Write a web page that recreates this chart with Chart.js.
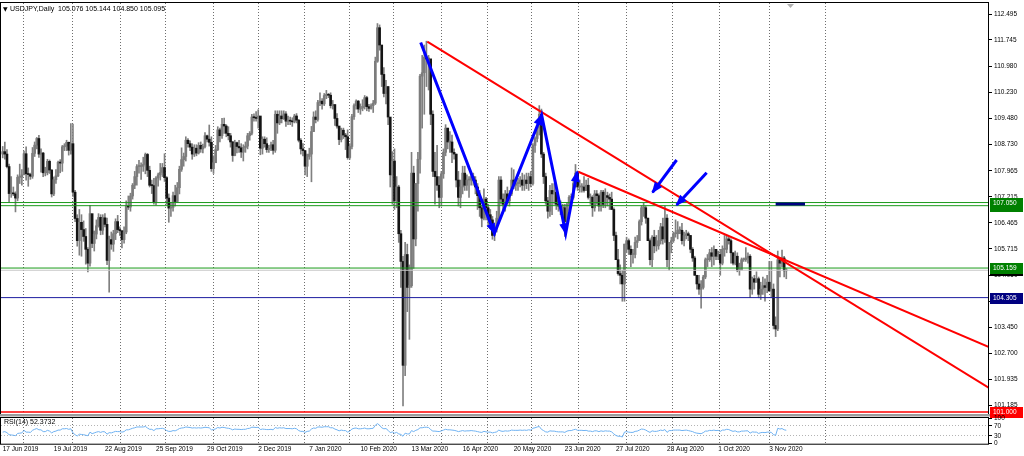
<!DOCTYPE html>
<html>
<head>
<meta charset="utf-8">
<script src="https://cdn.jsdelivr.net/npm/chart.js@4.4.0/dist/chart.umd.min.js"></script>
<style>
  html, body { margin: 0; padding: 0; background: #fff; }
  #wrap { position: relative; width: 1024px; height: 456px; overflow: hidden; }
  #main { position: absolute; left: 0; top: 0; }
  #rsi { position: absolute; left: 0; top: 414px; }
</style>
</head>
<body>
<div id="wrap">
  <canvas id="main" width="1024" height="420"></canvas>
  <canvas id="rsi" width="1024" height="42"></canvas>
</div>
<script>
// ---- data: USDJPY daily bars, 17 Jun 2019 .. 13 Nov 2020 (one row per week) ----
const symbolTitle = "USDJPY,Daily";
const headerOHLC = ["105.076", "105.144", "104.850", "105.095"];
const firstOpen = 108.45;

const highs = [
  108.67,108.80,108.58,108.16,107.80, 107.50,107.36,107.85,108.16,108.00,
  108.54,108.66,108.05,107.90,108.64, 108.80,108.93,108.99,108.60,108.50,
  108.07,108.30,108.28,108.00,107.79, 108.00,108.25,108.29,108.70,108.75,
  108.85,108.80,109.33,109.32,107.40, 106.70,106.85,106.70,106.52,106.30,
  105.75,106.97,106.70,106.23,106.55, 106.73,106.70,106.70,106.73,106.60,
  106.08,106.20,106.25,106.58,106.68, 106.35,106.20,106.35,107.10,107.24,
  107.32,107.60,107.95,108.15,108.27, 108.20,108.36,108.48,108.47,108.10,
  107.70,107.75,107.80,107.90,108.18, 108.18,108.46,107.80,107.30,107.06,
  107.35,107.55,107.63,108.10,108.63, 108.48,108.95,108.90,108.83,108.75,
  108.72,108.72,108.78,108.80,108.74, 109.07,109.00,109.29,108.95,108.40,
  108.70,109.24,109.20,109.48,109.49, 109.30,109.24,109.05,108.82,108.85,
  108.80,108.85,108.75,108.72,108.80, 109.05,109.10,109.60,109.61,109.68,
  109.73,109.50,108.95,108.95,108.92, 108.70,108.80,108.85,109.70,109.70,
  109.70,109.70,109.70,109.68,109.55, 109.52,109.50,109.60,109.62,
  109.45,108.90,108.75,108.56,
  108.45,108.62,109.25,109.67,109.70, 110.00,110.22,110.05,110.20,110.29,
  110.20,110.22,110.00,109.88,109.62, 109.25,109.20,109.20,109.05,109.15,
  108.75,109.60,109.90,110.02,110.00, 109.90,110.02,110.14,110.12,109.89,
  109.90,110.00,111.25,112.22,112.18, 111.35,110.95,110.58,110.40,109.50,
  108.52,108.60,107.80,107.55,106.25, 105.50,105.90,105.85,105.25,108.50,
  108.10,107.60,108.50,110.75,111.30, 111.60,111.71,111.30,110.80,109.70,
  108.50,108.70,107.80,107.95,108.60, 109.30,109.20,109.10,109.00,108.60,
  108.45,107.95,107.70,108.10,108.10, 107.85,107.80,107.90,107.90,107.80,
  107.60,107.40,106.95,107.45,107.20, 107.00,106.85,106.65,106.40,106.80,
  107.80,107.80,107.30,107.40,107.50, 107.40,108.05,108.00,107.75,107.75,
  107.80,107.90,107.85,107.90,107.90, 107.95,108.75,108.95,109.25,109.85,
  109.75,108.50,107.90,107.20,107.55, 107.60,107.60,107.45,107.10,107.10,
  107.00,107.00,107.05,107.25,107.30, 107.70,108.15,107.95,107.70,107.60,
  107.80,107.70,107.75,107.30,107.25, 107.40,107.40,107.30,107.40,107.40,
  107.45,107.35,107.30,107.35,106.90, 106.20,105.70,105.25,105.10,105.85,
  106.05,106.00,105.80,105.70,106.05, 106.10,106.55,106.95,107.05,106.95,
  106.60,106.00,106.10,106.25,106.10, 106.25,106.45,106.60,106.95,106.70,
  105.90,106.05,106.20,106.55,106.50, 106.35,106.45,106.20,106.25,106.20,
  106.10,105.75,105.50,104.95,104.95, 104.80,104.95,105.45,105.55,105.70,
  105.75,105.80,105.70,105.65,105.70, 105.80,106.10,106.10,106.05,106.00,
  105.60,105.65,105.60,105.30,105.45, 105.45,
  105.75,105.60,105.55,104.90,104.95, 105.05,104.90,104.75,104.90,104.85,
  104.95,105.35,105.35,104.70,103.75, 105.65,105.45,105.68,105.50,105.144
];

const lows = [
  108.34,108.30,108.05,107.05,107.20, 107.25,106.78,107.10,107.60,107.55,
  107.95,107.70,107.52,107.72,107.75, 108.38,108.60,108.35,107.93,107.80,
  107.82,107.85,107.89,107.21,107.25, 107.60,107.80,107.91,107.95,108.55,
  108.55,108.42,108.45,107.23,106.50, 105.79,105.53,105.50,105.93,105.27,
  105.05,105.21,105.75,105.65,106.00, 106.34,106.12,106.13,106.35,105.26,
  104.46,105.70,105.64,105.98,106.18, 106.10,105.74,105.88,106.15,106.85,
  106.80,107.15,107.45,107.55,107.90, 107.72,107.95,107.88,107.80,107.50,
  107.31,107.00,106.98,107.52,107.70, 107.80,107.66,107.00,106.48,106.65,
  106.80,106.95,107.05,107.30,107.95, 108.10,108.25,108.65,108.55,108.30,
  108.38,108.40,108.45,108.50,108.48, 108.63,108.80,108.68,107.95,107.89,
  108.25,108.55,108.80,108.90,109.05, 108.95,108.86,108.65,108.24,108.40,
  108.48,108.50,108.35,108.25,108.50, 108.60,108.85,109.00,109.40,109.40,
  109.20,108.43,108.45,108.65,108.50, 108.50,108.55,108.45,108.50,109.05,
  109.30,109.35,109.45,109.25,109.30, 109.30,109.25,109.35,109.35,
  108.80,108.45,108.40,107.85,
  107.80,108.30,107.65,109.10,109.35, 109.40,109.85,109.75,109.85,110.05,
  110.08,109.78,109.75,109.28,109.20, 108.72,108.80,108.90,108.58,108.30,
  108.30,108.60,109.45,109.75,109.65, 109.60,109.70,109.75,109.70,109.68,
  109.75,109.65,109.88,111.10,111.45, 110.40,110.10,109.90,109.30,107.50,
  107.00,106.85,106.90,105.90,104.60, 101.18,102.05,103.90,103.10,104.60,
  105.15,105.80,106.80,107.90,109.20, 109.60,110.40,110.30,109.30,107.80,
  107.00,107.40,106.90,106.95,107.75, 108.40,108.60,108.50,108.20,108.30,
  107.50,106.95,106.90,107.30,107.40, 107.40,107.20,107.55,107.55,107.30,
  106.85,106.65,106.35,106.55,106.55, 106.35,106.30,105.99,105.95,106.20,
  106.55,107.00,106.75,106.80,107.00, 106.95,107.25,107.45,107.40,107.40,
  107.50,107.40,107.40,107.45,107.40, 107.50,107.55,108.50,108.80,109.00,
  108.35,107.60,107.00,106.60,106.65, 106.70,107.00,106.85,106.80,106.70,
  106.60,106.07,106.35,106.80,106.95, 107.15,107.50,107.40,107.35,107.35,
  107.35,107.40,107.15,107.00,106.65, 106.80,107.00,106.80,106.80,106.90,
  106.90,106.95,106.85,106.85,105.95, 105.40,104.95,104.70,104.20,104.20,
  105.60,105.55,105.20,105.30,105.45, 105.75,105.95,106.40,106.65,106.45,
  105.95,105.25,105.20,105.60,105.65, 105.70,105.85,105.85,105.90,105.20,
  105.10,105.60,105.90,106.05,106.00, 106.15,105.85,105.80,106.00,105.95,
  105.60,105.35,104.95,104.55,104.40, 104.00,104.55,104.85,105.20,105.35,
  105.20,105.25,105.40,105.40,104.95, 105.25,105.50,105.60,105.85,105.30,
  105.25,105.25,105.05,104.95,105.20, 105.35,
  105.35,105.30,104.30,104.40,104.55, 104.75,104.30,104.25,104.40,104.20,
  104.45,104.48,104.30,103.40,103.18, 103.35,104.90,105.20,104.90,104.850
];

const closes = [
  108.52,108.45,108.09,107.31,107.32, 107.30,107.18,107.78,107.79,107.85,
  108.46,107.88,107.86,107.81,108.47, 108.71,108.90,108.45,108.48,107.91,
  107.91,108.24,107.99,107.30,107.71, 107.82,108.21,108.19,108.66,108.68,
  108.79,108.56,108.75,107.35,106.59, 105.95,106.48,106.27,106.07,105.70,
  105.30,106.73,105.87,106.14,106.38, 106.62,106.25,106.61,106.42,105.38,
  105.98,105.85,106.15,106.50,106.27, 106.24,105.98,106.20,106.94,106.92,
  107.24,107.55,107.80,108.09,108.09, 108.10,108.15,108.44,107.98,107.55,
  107.54,107.07,107.76,107.85,107.92, 108.06,107.77,107.18,106.89,106.91,
  107.25,107.08,107.48,108.01,108.29, 108.38,108.85,108.75,108.65,108.45,
  108.62,108.48,108.70,108.60,108.67, 108.98,108.88,108.79,108.03,108.20,
  108.58,109.15,108.98,109.31,109.26, 109.05,108.98,108.80,108.41,108.78,
  108.67,108.63,108.51,108.64,108.68, 108.98,109.05,109.52,109.50,109.48,
  109.55,108.62,108.88,108.75,108.58, 108.62,108.72,108.56,109.60,109.35,
  109.55,109.47,109.61,109.40,109.43, 109.40,109.38,109.55,109.43,
  108.85,108.60,108.55,108.10,
  108.38,108.45,109.10,109.52,109.45, 109.94,109.98,109.90,110.14,110.17,
  110.15,109.85,109.88,109.48,109.26, 108.87,109.14,109.00,108.95,108.35,
  108.67,109.53,109.85,109.98,109.75, 109.78,109.83,110.08,109.82,109.77,
  109.85,109.92,111.13,112.10,111.60, 110.75,110.20,110.40,109.52,107.85,
  108.25,107.10,107.50,106.15,105.35, 102.35,105.55,104.60,104.65,107.90,
  106.00,107.60,108.30,110.70,110.80, 111.25,111.20,111.20,109.60,107.95,
  107.80,107.55,107.20,107.88,108.50, 109.20,108.80,108.80,108.50,108.45,
  107.70,107.20,107.50,107.90,107.55, 107.70,107.70,107.80,107.70,107.50,
  107.25,106.90,106.60,107.15,106.90, 106.70,106.55,106.10,106.30,106.60,
  107.70,107.15,107.00,107.30,107.10, 107.30,107.70,107.55,107.60,107.60,
  107.70,107.55,107.70,107.60,107.80, 107.60,108.70,108.90,109.20,109.60,
  108.45,107.80,107.10,106.80,107.40, 107.30,107.35,107.00,106.95,106.90,
  106.90,106.50,107.00,107.20,107.20, 107.60,107.90,107.50,107.50,107.50,
  107.40,107.55,107.20,107.20,106.90, 107.30,107.25,106.95,107.35,107.00,
  107.25,107.20,107.15,106.85,106.10, 105.40,105.00,104.95,104.70,105.85,
  105.95,105.70,105.55,105.55,105.90, 105.95,106.50,106.90,106.90,106.60,
  105.95,105.40,106.05,105.80,105.80, 105.95,106.35,106.00,106.60,105.40,
  105.90,105.95,106.15,106.15,106.25, 106.25,105.95,106.10,106.15,106.10,
  105.70,105.45,104.95,104.70,104.55, 104.60,104.90,105.40,105.40,105.60,
  105.50,105.70,105.50,105.55,105.30, 105.70,105.70,106.00,105.95,105.60,
  105.30,105.50,105.10,105.10,105.40, 105.40,
  105.45,105.50,104.55,104.85,104.75, 104.85,104.40,104.55,104.65,104.60,
  104.75,104.50,104.55,103.50,103.40, 105.40,105.30,105.45,105.08,105.095
];

const rsiValues = [
  45,47,43,35,34, 33,31,40,41,42, 52,45,45,44,52, 56,59,54,54,47,
  47,52,49,42,47, 49,53,53,58,58, 59,56,58,42,35, 30,37,36,35,33,
  31,45,39,42,45, 47,44,47,46,37, 43,42,45,48,47, 47,45,47,54,54,
  57,60,62,65,65, 65,65,67,61,56, 56,51,58,58,59, 60,57,51,48,48,
  51,50,54,59,61, 62,65,64,63,61, 62,61,62,61,62, 64,63,62,54,55,
  58,63,61,64,63, 61,60,58,54,57, 56,56,55,56,56, 59,60,64,64,63,
  64,55,57,56,55, 55,56,54,63,60, 62,61,62,59,59, 59,58,60,58,
  51,48,48,44,
  48,49,57,61,60, 65,65,64,66,66, 66,62,62,57,54, 50,53,51,51,45,
  49,57,60,61,58, 58,59,61,58,58, 59,60,72,78,72, 62,58,59,52,43,
  46,41,44,38,36, 29,41,38,38,51, 47,52,55,62,62, 64,64,63,55,49,
  49,48,47,50,53, 56,54,54,53,52, 50,47,49,51,49, 50,50,51,50,49,
  47,45,44,48,46, 45,45,42,44,46, 53,49,48,50,49, 50,53,52,52,52,
  53,52,53,52,54, 53,60,62,65,67, 56,51,46,45,50, 49,49,47,46,46,
  46,44,49,51,51, 54,56,52,52,52, 51,52,49,49,47, 50,50,47,50,48,
  50,49,49,46,38, 32,29,29,26,45, 47,45,44,44,48, 49,53,57,56,53,
  48,44,50,48,48, 50,53,51,55,44, 51,51,53,53,53, 53,51,52,53,51,
  49,47,43,41,40, 39,43,49,49,52, 51,53,51,52,48, 53,53,56,55,51,
  48,50,46,46,49, 49,
  50,50,41,46,45, 45,40,43,44,43, 45,45,44,35,33, 60,57,59,54,52.37
];
const rsiTitle = "RSI(14) 52.3732";

// date labels, one every 24 bars
const dateLabels = ["17 Jun 2019", "19 Jul 2019", "22 Aug 2019", "25 Sep 2019", "29 Oct 2019",
  "2 Dec 2019", "7 Jan 2020", "10 Feb 2020", "13 Mar 2020", "16 Apr 2020", "20 May 2020",
  "23 Jun 2020", "27 Jul 2020", "28 Aug 2020", "1 Oct 2020", "3 Nov 2020"];
const labelStep = 24;
// bar index of the first bar of each month (dotted separators)
const monthStarts = [10, 33, 55.5, 76.5, 99, 120, 141.5, 163, 183.5, 206, 227.5, 248.5, 270.5,
  293, 314.5, 336.5, 360, 386.5];

const priceTicks = [112.495, 111.745, 110.980, 110.230, 109.480, 108.730, 107.965, 107.215,
  106.465, 105.715, 104.950, 104.200, 103.450, 102.700, 101.935, 101.185];
const rsiTicks = [0, 30, 70, 100];

// drawn objects, in (bar index, price)
const greenLevels = [106.960, 107.050, 105.159];
const supportLevel = 104.305;
const floorLevel = 101.000;
const bidPrice = 105.095;
const trendLines = [[199.4, 111.695, 463.2, 101.695], [270.3, 107.941, 463.2, 102.879]];
const zigzagBars = [196.3, 230.9, 253.1, 264.4, 269.8];
const zigzagPrices = [111.67, 106.16, 109.58, 106.16, 107.94];
const arrowLines = [[316.5, 108.279, 305.2, 107.346], [330.6, 107.912, 316.5, 106.979]];
const markSegment = [363, 376.8, 107.008];

// ---- view ----
const X_MIN = -0.8, X_MAX = 463.2;
const Y_MIN = 100.944, Y_MAX = 112.813;
const FONT = '"Liberation Sans", Arial, "DejaVu Sans", sans-serif';
const BLUE = '#0000ff', RED = '#ff0000', GREEN = '#1a9a1a', NAVY = '#1c1ca0';

const opens = closes.map((c, i) => (i === 0 ? firstOpen : closes[i - 1]));
const wickData = highs.map((h, i) => ({ x: i, y: [lows[i], h] }));
const bodyData = closes.map((c, i) => ({ x: i, y: [opens[i], c] }));
const bodyColors = closes.map((c, i) => (c >= opens[i] ? '#7c7c7c' : '#141414'));

const hline = v => [{ x: X_MIN, y: v }, { x: X_MAX, y: v }];
const seg = a => [{ x: a[0], y: a[1] }, { x: a[2], y: a[3] }];
const lineSet = (data, color, width, order) => ({
  type: 'line', data, borderColor: color, borderWidth: width, pointRadius: 0,
  fill: false, tension: 0, order
});

const datasets = [
  lineSet(zigzagBars.map((b, k) => ({ x: b, y: zigzagPrices[k] })), BLUE, 3, 0),
  ...arrowLines.map(a => lineSet(seg(a), BLUE, 3, 0)),
  ...trendLines.map(t => lineSet(seg(t), RED, 2, 1)),
  lineSet([{ x: markSegment[0], y: markSegment[2] }, { x: markSegment[1], y: markSegment[2] }], '#000080', 3, 1),
  ...greenLevels.map(v => lineSet(hline(v), GREEN, 1, 2)),
  lineSet(hline(supportLevel), NAVY, 1, 2),
  lineSet(hline(floorLevel), RED, 1.5, 2),
  lineSet(hline(bidPrice), '#c8c8c8', 1, 3),
  { type: 'bar', data: bodyData, backgroundColor: bodyColors, barThickness: 2, grouped: false,
    minBarLength: 1, order: 8 },
  { type: 'bar', data: wickData, backgroundColor: '#808080', barThickness: 1, grouped: false, order: 9 }
];

function arrowHead(ctx, xs, ys, b0, p0, b1, p1) {
  const ax = xs.getPixelForValue(b0), ay = ys.getPixelForValue(p0);
  const bx = xs.getPixelForValue(b1), by = ys.getPixelForValue(p1);
  const a = Math.atan2(by - ay, bx - ax), L = 10, W = 4.5;
  ctx.beginPath();
  ctx.moveTo(bx + 1.5 * Math.cos(a), by + 1.5 * Math.sin(a));
  ctx.lineTo(bx - L * Math.cos(a) + W * Math.sin(a), by - L * Math.sin(a) - W * Math.cos(a));
  ctx.lineTo(bx - L * Math.cos(a) - W * Math.sin(a), by - L * Math.sin(a) + W * Math.cos(a));
  ctx.closePath();
  ctx.fill();
}

function priceTag(ctx, ys, right, v, bg) {
  const y = Math.round(ys.getPixelForValue(v));
  ctx.fillStyle = bg;
  ctx.fillRect(right + 1, y - 5, 33, 11);
  ctx.fillStyle = '#fff';
  ctx.fillText(v.toFixed(3), right + 4, y + 0.5);
}

const mainDecor = {
  id: 'mainDecor',
  afterDatasetsDraw(chart) {
    const { ctx, scales: { x, y } } = chart;
    ctx.save();
    ctx.fillStyle = BLUE;
    for (let k = 1; k < zigzagBars.length; k++) {
      arrowHead(ctx, x, y, zigzagBars[k - 1], zigzagPrices[k - 1], zigzagBars[k], zigzagPrices[k]);
    }
    arrowLines.forEach(a => arrowHead(ctx, x, y, a[0], a[1], a[2], a[3]));
    ctx.restore();
  },
  afterDraw(chart) {
    const { ctx, chartArea: ca, scales: { x, y } } = chart;
    ctx.save();
    ctx.strokeStyle = '#000';
    ctx.lineWidth = 1;
    ctx.strokeRect(ca.left - 0.5, ca.top - 0.5, ca.right - ca.left, ca.bottom - ca.top + 1);
    // header
    ctx.fillStyle = '#000';
    ctx.textBaseline = 'middle';
    ctx.textAlign = 'left';
    ctx.font = '6px "DejaVu Sans"';
    ctx.fillText('\u25BC', 3, 9);
    ctx.font = '7px ' + FONT;
    ctx.fillText(symbolTitle + '  ' + headerOHLC.join(' '), 10, 9);
    // shift marker
    const sx = Math.round(x.getPixelForValue(369.7)) + 0.5;
    ctx.fillStyle = '#b0b0b0';
    ctx.beginPath();
    ctx.moveTo(sx - 3.5, ca.top + 1); ctx.lineTo(sx + 3.5, ca.top + 1); ctx.lineTo(sx, ca.top + 5);
    ctx.closePath(); ctx.fill();
    // price tags on the axis
    ctx.font = '6.5px ' + FONT;
    priceTag(ctx, y, ca.right, bidPrice, '#000');
    priceTag(ctx, y, ca.right, greenLevels[0], '#008000');
    priceTag(ctx, y, ca.right, greenLevels[1], '#008000');
    priceTag(ctx, y, ca.right, greenLevels[2], '#008000');
    priceTag(ctx, y, ca.right, supportLevel, '#000080');
    priceTag(ctx, y, ca.right, floorLevel, RED);
    ctx.restore();
  }
};

new Chart(document.getElementById('main'), {
  type: 'bar',
  data: { datasets },
  options: {
    responsive: false,
    animation: false,
    devicePixelRatio: 1,
    layout: { padding: { top: 3, left: 1, right: 0, bottom: 6 } },
    plugins: { legend: { display: false }, tooltip: { enabled: false } },
    scales: {
      x: {
        type: 'linear', min: X_MIN, max: X_MAX, bounds: 'data', offset: false,
        afterBuildTicks: s => { s.ticks = monthStarts.map(v => ({ value: v })); },
        afterFit: s => { s.height = 0; },
        ticks: { display: false },
        grid: { color: '#6e6e6e', drawTicks: false, offset: false },
        border: { display: false, dash: [1, 2] }
      },
      y: {
        position: 'right', min: Y_MIN, max: Y_MAX, bounds: 'data',
        afterBuildTicks: s => { s.ticks = priceTicks.map(v => ({ value: v })); },
        afterFit: s => { s.width = 35; s.paddingTop = 0; s.paddingBottom = 0; },
        ticks: {
          autoSkip: false, color: '#000', padding: 2,
          font: { family: FONT, size: 6.5 },
          callback: v => v.toFixed(3)
        },
        grid: { drawOnChartArea: false, drawTicks: true, tickLength: 3, tickColor: '#000' },
        border: { display: false }
      }
    }
  },
  plugins: [mainDecor]
});

// ---- RSI pane ----
const rsiDecor = {
  id: 'rsiDecor',
  beforeDraw(chart) {
    const { ctx } = chart;
    ctx.save();
    ctx.fillStyle = '#9d9d9d';
    ctx.fillRect(0, 0, 990, 2.5);
    ctx.restore();
  },
  afterDraw(chart) {
    const { ctx, chartArea: ca } = chart;
    ctx.save();
    ctx.strokeStyle = '#000';
    ctx.lineWidth = 1;
    ctx.strokeRect(ca.left - 0.5, ca.top - 0.5, ca.right - ca.left, ca.bottom - ca.top + 1);
    ctx.fillStyle = '#000';
    ctx.font = '7px ' + FONT;
    ctx.textBaseline = 'middle';
    ctx.fillText(rsiTitle, 4, 8);
    ctx.restore();
  }
};

new Chart(document.getElementById('rsi'), {
  type: 'line',
  data: {
    datasets: [{
      data: rsiValues.map((v, i) => ({ x: i, y: v })),
      borderColor: '#6fb2f2', borderWidth: 1, pointRadius: 0, tension: 0, fill: false
    }]
  },
  options: {
    responsive: false,
    animation: false,
    devicePixelRatio: 1,
    layout: { padding: { top: 4, left: 1, right: 0, bottom: 0 } },
    plugins: { legend: { display: false }, tooltip: { enabled: false } },
    scales: {
      x: {
        type: 'linear', min: X_MIN, max: X_MAX, bounds: 'data',
        afterBuildTicks: s => { s.ticks = monthStarts.map(v => ({ value: v })); },
        afterFit: s => { s.height = 0; },
        ticks: { display: false },
        grid: { color: '#6e6e6e', drawTicks: false },
        border: { display: false, dash: [1, 2] }
      },
      x2: {
        type: 'linear', position: 'bottom', min: X_MIN, max: X_MAX, bounds: 'data',
        afterBuildTicks: s => { s.ticks = dateLabels.map((_, k) => ({ value: k * labelStep })); },
        afterFit: s => { s.height = 12.3; },
        ticks: {
          autoSkip: false, maxRotation: 0, align: 'start', padding: 2, color: '#000',
          font: { family: FONT, size: 6.5 },
          callback: (v, k) => dateLabels[k]
        },
        grid: { drawOnChartArea: false, drawTicks: false },
        border: { display: false }
      },
      y: {
        position: 'right', min: 0, max: 100, bounds: 'data',
        afterBuildTicks: s => { s.ticks = rsiTicks.map(v => ({ value: v })); },
        afterFit: s => { s.width = 35; s.paddingTop = 0; s.paddingBottom = 0; },
        ticks: { autoSkip: false, color: '#000', padding: 2, font: { family: FONT, size: 6.5 } },
        grid: {
          color: c => (c.tick && (c.tick.value === 30 || c.tick.value === 70) ? '#b4b4b4' : 'rgba(0,0,0,0)'),
          drawTicks: true, tickLength: 3, tickColor: '#000'
        },
        border: { display: false, dash: [1, 2] }
      }
    }
  },
  plugins: [rsiDecor]
});
</script>
</body>
</html>
